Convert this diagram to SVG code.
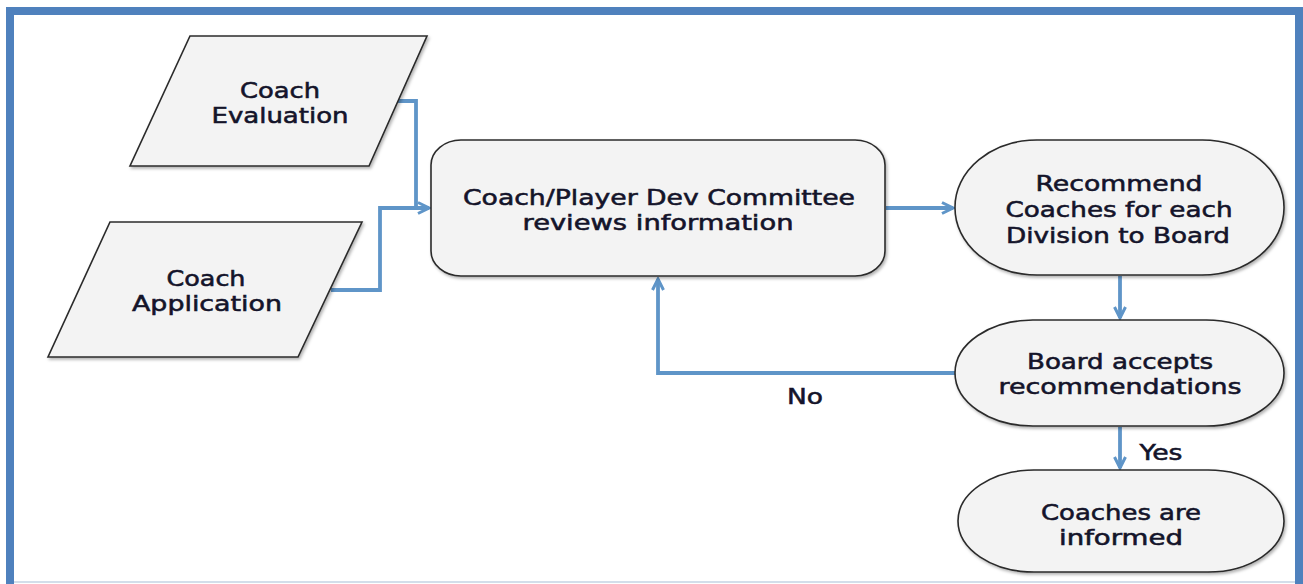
<svg xmlns="http://www.w3.org/2000/svg" width="1303" height="584" viewBox="0 0 1303 584">
<style>
.shape{fill:#f3f3f3;stroke:#2b2b2b;stroke-width:1.6;filter:url(#sh)}
.t{font-family:"DejaVu Sans",Verdana,sans-serif;font-size:21px;fill:#14142a;stroke:#14142a;stroke-width:0.55;text-anchor:middle}
.c{fill:none;stroke:#5f95c8;stroke-width:3.8;marker-end:url(#ah)}
.cn{fill:none;stroke:#5f95c8;stroke-width:3.8}
</style>
<defs>
<filter id="sh" x="-5%" y="-5%" width="115%" height="120%">
<feDropShadow dx="1.5" dy="2" stdDeviation="1.5" flood-color="#000" flood-opacity="0.3"/>
</filter>
<marker id="ah" viewBox="0 0 14 14" refX="12" refY="7" markerWidth="14" markerHeight="14" markerUnits="userSpaceOnUse" orient="auto">
<path d="M1,1.5 L12,7 L1,12.5" fill="none" stroke="#5f95c8" stroke-width="3" stroke-linejoin="miter"/>
</marker>
</defs>
<rect width="1303" height="584" fill="#ffffff"/>
<rect x="10" y="11" width="1289" height="590" fill="none" stroke="#4f81bd" stroke-width="8"/>
<line x1="14" y1="582" x2="1295" y2="582" stroke="#c5d3e3" stroke-width="1.5"/>

<g id="connectors">
<path class="c" d="M398,101 H416 V208 H429"/>
<path class="cn" d="M331,290 H380 V208 H416"/>
<path class="c" d="M886,208 H953"/>
<path class="c" d="M1120,276 V318"/>
<path class="c" d="M955,373 H658 V279"/>
<path class="c" d="M1120,427 V468"/>
<text class="t" x="805" y="404" textLength="36" lengthAdjust="spacingAndGlyphs">No</text>
<text class="t" x="1161" y="460" textLength="43" lengthAdjust="spacingAndGlyphs">Yes</text>
</g>

<g id="coach-evaluation">
<polygon class="shape" points="190,36 427,36 369,166 130,166"/>
<text class="t" x="280" y="98" textLength="80" lengthAdjust="spacingAndGlyphs">Coach</text>
<text class="t" x="280" y="123" textLength="137" lengthAdjust="spacingAndGlyphs">Evaluation</text>
</g>

<g id="coach-application">
<polygon class="shape" points="110,222 362,222 298,357 48,357"/>
<text class="t" x="206" y="286" textLength="79" lengthAdjust="spacingAndGlyphs">Coach</text>
<text class="t" x="207" y="311" textLength="150" lengthAdjust="spacingAndGlyphs">Application</text>
</g>

<g id="committee">
<rect class="shape" x="431" y="140" width="454" height="136" rx="30" ry="25"/>
<text class="t" x="659" y="205" textLength="392" lengthAdjust="spacingAndGlyphs">Coach/Player Dev Committee</text>
<text class="t" x="658" y="230" textLength="271" lengthAdjust="spacingAndGlyphs">reviews information</text>
</g>

<g id="recommend">
<rect class="shape" x="955" y="140" width="329" height="135" rx="82" ry="67"/>
<text class="t" x="1119" y="191" textLength="167" lengthAdjust="spacingAndGlyphs">Recommend</text>
<text class="t" x="1119" y="217" textLength="227" lengthAdjust="spacingAndGlyphs">Coaches for each</text>
<text class="t" x="1118" y="243" textLength="224" lengthAdjust="spacingAndGlyphs">Division to Board</text>
</g>

<g id="board-accepts">
<rect class="shape" x="955" y="320" width="329" height="106" rx="78" ry="53"/>
<text class="t" x="1120" y="369" textLength="186" lengthAdjust="spacingAndGlyphs">Board accepts</text>
<text class="t" x="1120" y="394" textLength="243" lengthAdjust="spacingAndGlyphs">recommendations</text>
</g>

<g id="coaches-informed">
<rect class="shape" x="958" y="470" width="326" height="102" rx="76" ry="51"/>
<text class="t" x="1121" y="520" textLength="160" lengthAdjust="spacingAndGlyphs">Coaches are</text>
<text class="t" x="1121" y="545" textLength="124" lengthAdjust="spacingAndGlyphs">informed</text>
</g>
</svg>
